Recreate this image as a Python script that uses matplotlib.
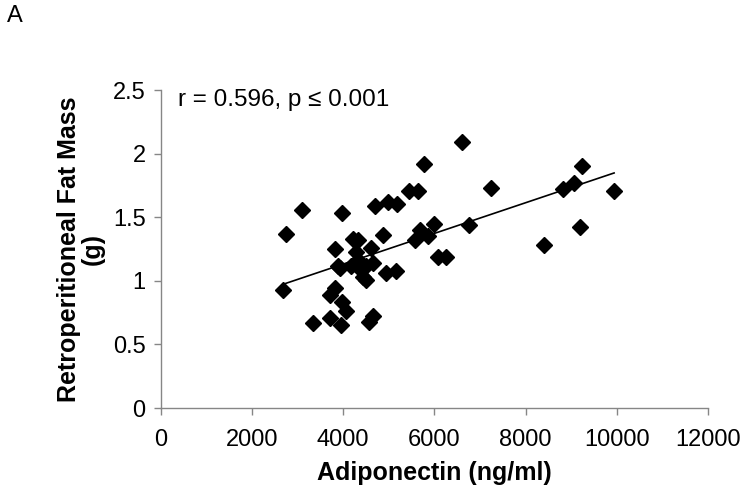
import numpy as np
import matplotlib
matplotlib.use("Agg")
from matplotlib import pyplot as plt

plt.rcParams['font.family'] = ['Liberation Sans', 'DejaVu Sans']

# adiponectin (ng/ml) vs retroperitoneal fat mass (g)
adipo = [2678, 2752, 3103, 3335, 3700, 3716, 3810, 3825, 3883, 3919,
         3957, 3979, 3979, 4066, 4175, 4212, 4285, 4320, 4320, 4320,
         4430, 4504, 4504, 4576, 4613, 4649, 4649, 4708, 4868, 4942,
         4978, 5161, 5183, 5452, 5577, 5634, 5693, 5765, 5853, 6000,
         6072, 6256, 6606, 6766, 7241, 8393, 8831, 9065, 9196, 9247, 9941]
fat = [0.93, 1.37, 1.56, 0.67, 0.89, 0.71, 0.94, 1.25, 1.12, 1.10,
       0.65, 0.83, 1.53, 0.76, 1.12, 1.33, 1.23, 1.32, 1.16, 1.11,
       1.03, 1.01, 1.12, 0.68, 1.26, 0.72, 1.14, 1.59, 1.36, 1.06,
       1.62, 1.08, 1.60, 1.71, 1.32, 1.71, 1.40, 1.92, 1.35, 1.45,
       1.19, 1.19, 2.09, 1.44, 1.73, 1.28, 1.72, 1.77, 1.42, 1.90, 1.71]

xticks = [0, 2000, 4000, 6000, 8000, 10000, 12000]
yticks = [0, 0.5, 1, 1.5, 2, 2.5]
ytick_labels = ['0', '0.5', '1', '1.5', '2', '2.5']

fig = plt.figure(figsize=(7.48, 4.93), dpi=100)
ax = fig.add_axes([0.215, 0.1724, 0.7315, 0.645])

x = np.array(adipo)
y = np.array(fat)
ax.plot(x, y, 'kD', ms=8, zorder=3)

# linear trendline over data range
m, b = np.polyfit(x, y, 1)
xl = np.array([x.min(), x.max()])
ax.plot(xl, m*xl + b, 'k-', lw=1.2, zorder=2)

ax.set_xlim(0, 12000)
ax.set_ylim(0, 2.5)
ax.set_xticks(xticks)
ax.set_yticks(yticks)
ax.set_yticklabels(ytick_labels)

grey = '#868686'
for s in ['top', 'right']:
    ax.spines[s].set_visible(False)
for s in ['left', 'bottom']:
    ax.spines[s].set_color(grey)
    ax.spines[s].set_linewidth(1)
ax.tick_params(axis='both', colors=grey, labelcolor='black', labelsize=17,
               length=5, width=1, direction='out')
ax.tick_params(axis='x', pad=10)
ax.tick_params(axis='y', pad=6)

ax.set_xlabel('Adiponectin (ng/ml)', fontsize=18, fontweight='bold', labelpad=7)
ax.set_ylabel('Retroperitioneal Fat Mass\n(g)', fontsize=18, fontweight='bold',
              labelpad=6, linespacing=0.95)

ax.text(372, 2.42, 'r = 0.596, p ≤ 0.001', fontsize=17.5, va='center', ha='left')
fig.text(0.009, 0.967, 'A', fontsize=17, va='center', ha='left')

plt.savefig('out.png', dpi=100)
